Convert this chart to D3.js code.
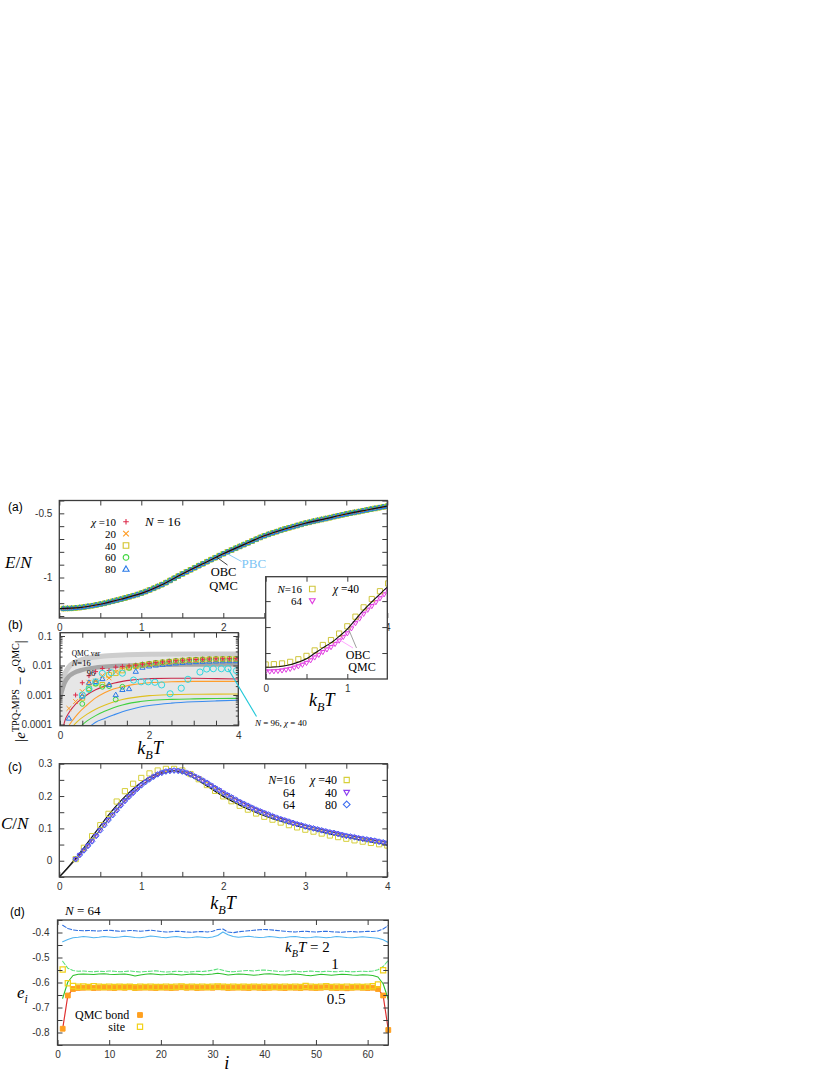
<!DOCTYPE html>
<html><head><meta charset="utf-8">
<script src="https://cdn.jsdelivr.net/npm/d3@7"></script>
<style>body{margin:0;background:#fff}</style>
</head><body>
<svg id="c" width="830" height="1075"></svg>
<script>
// ================= DATA =================
// (a) E/N vs kBT, N=16
const aT = [0,0.25,0.5,0.75,1,1.25,1.5,1.75,2,2.25,2.5,2.75,3,3.25,3.5,3.75,4];
const aQmcObc = [-1.242,-1.234,-1.208,-1.169,-1.124,-1.056,-0.972,-0.893,-0.815,-0.744,-0.675,-0.622,-0.577,-0.541,-0.505,-0.474,-0.444];
const aQmcPbc = [-1.245,-1.238,-1.214,-1.178,-1.134,-1.068,-0.985,-0.905,-0.826,-0.754,-0.684,-0.630,-0.584,-0.547,-0.511,-0.479,-0.449];
const aMarkT = d3.range(1,81).map(k=>+(k*0.05).toFixed(2));
const aMps = [-1.242,-1.241,-1.240,-1.237,-1.234,-1.230,-1.225,-1.220,-1.214,-1.208,
 -1.201,-1.193,-1.185,-1.177,-1.169,-1.160,-1.151,-1.142,-1.133,-1.122,
 -1.110,-1.097,-1.084,-1.070,-1.056,-1.040,-1.023,-1.006,-0.989,-0.972,
 -0.956,-0.940,-0.924,-0.908,-0.893,-0.877,-0.861,-0.846,-0.830,-0.815,
 -0.800,-0.786,-0.772,-0.758,-0.744,-0.730,-0.716,-0.702,-0.688,-0.675,
 -0.664,-0.653,-0.643,-0.632,-0.622,-0.613,-0.604,-0.595,-0.586,-0.577,
 -0.570,-0.562,-0.555,-0.548,-0.541,-0.534,-0.526,-0.519,-0.512,-0.505,
 -0.499,-0.493,-0.487,-0.480,-0.474,-0.468,-0.462,-0.456,-0.450,-0.444];
const chiLabels = ['10','20','40','60','80'];
// (a) inset, chi=40
const inT16 = d3.range(0,16).map(k=>+(k*0.1).toFixed(2));
const inSq16 = [-1.244,-1.243,-1.240,-1.234,-1.224,-1.211,-1.190,-1.169,-1.150,-1.125,-1.097,-1.060,-1.024,-0.992,-0.962,-0.932];
const inQmc16 = [-1.255,-1.254,-1.251,-1.245,-1.235,-1.222,-1.201,-1.180,-1.161,-1.136,-1.108,-1.071,-1.035,-1.003,-0.973,-0.943];
const inQmc64 = [-1.266,-1.265,-1.262,-1.256,-1.246,-1.233,-1.212,-1.191,-1.172,-1.148,-1.120,-1.082,-1.046,-1.016,-0.986,-0.956];
const inT64 = d3.range(0,31).map(k=>+(k*0.05).toFixed(2));
const inTri64 = [-1.271,-1.271,-1.270,-1.269,-1.267,-1.264,-1.261,-1.256,-1.251,-1.245,-1.238,-1.228,-1.217,-1.207,-1.196,-1.186,-1.177,-1.165,-1.152,-1.138,-1.124,-1.105,-1.085,-1.067,-1.049,-1.033,-1.019,-1.004,-0.989,-0.974,-0.959];
// (b) |e_TPQ-MPS - e_QMC|
const bVarT = [0,0.05,0.1,0.2,0.3,0.5,0.75,1.0,1.5,2.0,3.0,4.0];
const bVar16 = [0.0015,0.003,0.005,0.009,0.012,0.016,0.019,0.021,0.023,0.024,0.0245,0.0245];
const bVar96 = [0.0008,0.0015,0.0025,0.0043,0.0055,0.0071,0.0083,0.0091,0.0099,0.0104,0.0108,0.011];
const bLineT = [0.05,0.1,0.2,0.3,0.4,0.6,0.8,1.0,1.2,1.4,1.6,1.8,2.0,2.5,3.0,3.5,4.0];
const bLine10 = [0.00005,0.00012,0.00025,0.0004,0.00058,0.001,0.0015,0.002,0.0025,0.0029,0.0032,0.0034,0.0036,0.0037,0.0037,0.0036,0.0035];
const bLine20 = [0.00002,0.00004,0.00009,0.00015,0.00023,0.00045,0.0008,0.0012,0.0016,0.0019,0.0022,0.0024,0.0026,0.0028,0.0029,0.0029,0.0029];
const bLine40 = [0.00001,0.00002,0.00005,0.00009,0.00013,0.00022,0.00033,0.00045,0.00058,0.0007,0.0008,0.00088,0.00095,0.00103,0.00106,0.00107,0.00108];
const bLine60 = [0.00001,0.00001,0.00003,0.00005,0.00007,0.00013,0.0002,0.00028,0.00037,0.00046,0.00054,0.0006,0.00065,0.00071,0.00074,0.00076,0.00077];
const bLine80 = [0.00001,0.00001,0.00002,0.00003,0.00004,0.00007,0.00012,0.00016,0.00021,0.00027,0.00033,0.00039,0.00044,0.00053,0.00059,0.00063,0.00066];
const bMarkT = d3.range(0,26).map(k=>+(0.2+k*0.15).toFixed(2));
const bMark10 = [null,0.001,0.0026,0.0045,0.0062,0.0079,0.0068,0.0088,0.0093,0.0097,0.0103,0.0111,0.0118,0.0125,0.0132,0.0139,0.0145,0.0151,0.0156,0.016,0.0163,0.0166,0.0168,0.0169,0.017,0.017];
const bMark20 = [0.00035,0.0006,0.0013,0.0027,0.003,0.0045,0.0038,0.006,0.0072,0.0085,0.0094,0.0103,0.0111,0.0119,0.0126,0.0133,0.0139,0.0145,0.015,0.0154,0.0157,0.016,0.0162,0.0163,0.0164,0.0164];
const bMark40 = [null,null,0.0008,0.0017,0.0025,0.0022,0.0048,0.0055,0.0068,0.0085,0.0095,0.0104,0.0112,0.012,0.0127,0.0134,0.014,0.0146,0.0151,0.0155,0.0158,0.0161,0.0163,0.0164,0.0165,0.0165];
const bMark60 = [null,null,0.0005,0.0015,0.0024,0.0019,0.002,0.0007,0.0019,0.0083,0.0097,0.0106,0.0114,0.0122,0.0129,0.0136,0.0142,0.0148,0.0153,0.0157,0.016,0.0163,0.0165,0.0166,0.0167,0.0167];
const bMark80 = [0.00016,null,0.0009,0.0026,0.0028,0.0035,0.0022,0.001,0.0015,0.0016,0.0062,0.0085,0.0094,0.0101,0.0107,0.0113,0.0119,0.0124,0.0128,0.0132,0.0135,0.0137,0.0139,0.014,0.0141,0.0141];
const bN96T = [0.5,0.65,0.8,0.95,1.15,1.4,1.65,1.82,1.98,2.13,2.28,2.47,2.72,2.87,3.14,3.29,3.44,3.62,3.77,3.96];
const bN96 = [0.001,0.0016,0.0028,0.0054,0.0057,0.0055,0.0032,0.0028,0.0028,0.0027,0.0022,0.0011,0.0017,0.0034,0.006,0.0076,0.0078,0.0078,0.0078,0.0067];
// (c) C/N
const cLineT = d3.range(0,41).map(k=>+(k*0.1).toFixed(2));
const cQmc16 = [-0.05,-0.022,0.008,0.04,0.074,0.108,0.141,0.171,0.198,0.222,0.242,0.258,0.27,0.277,0.277,0.272,0.262,0.247,0.231,0.215,0.199,0.185,0.172,0.16,0.149,0.139,0.13,0.122,0.115,0.108,0.101,0.095,0.089,0.083,0.078,0.073,0.068,0.063,0.058,0.054,0.049];
const cQmc64 = [-0.05,-0.024,0.004,0.033,0.064,0.096,0.128,0.158,0.186,0.211,0.232,0.25,0.264,0.273,0.278,0.277,0.27,0.258,0.243,0.228,0.212,0.198,0.185,0.172,0.161,0.15,0.14,0.131,0.123,0.116,0.109,0.102,0.096,0.09,0.085,0.08,0.075,0.07,0.065,0.061,0.057];
const cT16 = d3.range(0,39).map(k=>+(0.2+k*0.1).toFixed(2));
const cMps16 = [0.005,0.04,0.076,0.11,0.145,0.183,0.215,0.238,0.256,0.27,0.279,0.284,0.284,0.279,0.268,0.252,0.234,0.216,0.199,0.184,0.17,0.158,0.146,0.136,0.127,0.118,0.11,0.103,0.096,0.09,0.084,0.078,0.073,0.068,0.063,0.059,0.055,0.051,0.047];
const cT64 = d3.range(0,77).map(k=>+(0.2+k*0.05).toFixed(2));
const cMps64 = [0.005,0.018,0.032,0.046,0.060,0.077,0.094,0.110,0.126,0.141,
 0.156,0.171,0.185,0.198,0.210,0.222,0.233,0.243,0.252,0.260,
 0.267,0.272,0.276,0.278,0.279,0.278,0.276,0.272,0.267,0.261,
 0.255,0.248,0.241,0.233,0.225,0.218,0.210,0.203,0.196,0.189,
 0.182,0.176,0.170,0.164,0.158,0.153,0.148,0.143,0.138,0.133,
 0.129,0.125,0.121,0.117,0.113,0.110,0.106,0.103,0.100,0.097,
 0.094,0.091,0.088,0.086,0.083,0.080,0.077,0.075,0.073,0.070,
 0.068,0.066,0.064,0.062,0.059,0.057,0.054];
// (d) local energies e_i, N=64
const dI = d3.range(1,65);
const dT2dash = [-0.371,-0.384,-0.390,-0.392,-0.393,-0.392,-0.393,-0.394,-0.392,-0.391,
 -0.393,-0.395,-0.394,-0.392,-0.393,-0.395,-0.393,-0.391,-0.393,-0.396,
 -0.398,-0.397,-0.395,-0.396,-0.398,-0.399,-0.397,-0.396,-0.398,-0.395,
 -0.388,-0.386,-0.398,-0.401,-0.397,-0.395,-0.393,-0.391,-0.389,-0.388,
 -0.389,-0.391,-0.393,-0.395,-0.397,-0.398,-0.396,-0.395,-0.397,-0.398,
 -0.396,-0.395,-0.397,-0.398,-0.399,-0.397,-0.396,-0.398,-0.397,-0.395,
 -0.396,-0.394,-0.386,-0.372];
const dT2solid = [-0.437,-0.428,-0.421,-0.419,-0.416,-0.418,-0.421,-0.419,-0.416,-0.418,
 -0.420,-0.418,-0.415,-0.417,-0.420,-0.421,-0.418,-0.414,-0.416,-0.419,
 -0.421,-0.418,-0.416,-0.419,-0.421,-0.420,-0.417,-0.419,-0.421,-0.418,
 -0.412,-0.398,-0.409,-0.416,-0.419,-0.417,-0.415,-0.418,-0.420,-0.419,
 -0.416,-0.418,-0.421,-0.420,-0.417,-0.416,-0.419,-0.421,-0.420,-0.417,
 -0.419,-0.421,-0.419,-0.416,-0.418,-0.420,-0.421,-0.419,-0.417,-0.419,
 -0.421,-0.423,-0.429,-0.440];
const dT1dash = [-0.515,-0.543,-0.552,-0.555,-0.554,-0.556,-0.557,-0.555,-0.556,-0.554,
 -0.555,-0.557,-0.556,-0.554,-0.556,-0.558,-0.556,-0.555,-0.553,-0.556,
 -0.558,-0.557,-0.555,-0.556,-0.558,-0.557,-0.555,-0.556,-0.554,-0.551,
 -0.546,-0.551,-0.556,-0.557,-0.555,-0.553,-0.552,-0.554,-0.551,-0.550,
 -0.552,-0.554,-0.556,-0.555,-0.553,-0.555,-0.557,-0.556,-0.554,-0.556,
 -0.557,-0.555,-0.556,-0.557,-0.555,-0.556,-0.557,-0.556,-0.555,-0.556,
 -0.554,-0.549,-0.536,-0.512];
const dT1solid = [-0.663,-0.598,-0.572,-0.567,-0.566,-0.567,-0.568,-0.566,-0.565,-0.567,
 -0.568,-0.567,-0.566,-0.569,-0.574,-0.570,-0.567,-0.565,-0.567,-0.569,
 -0.568,-0.566,-0.568,-0.570,-0.568,-0.566,-0.567,-0.569,-0.568,-0.566,
 -0.563,-0.566,-0.570,-0.568,-0.566,-0.567,-0.569,-0.571,-0.569,-0.566,
 -0.565,-0.567,-0.569,-0.570,-0.568,-0.566,-0.568,-0.571,-0.573,-0.570,
 -0.567,-0.569,-0.571,-0.569,-0.567,-0.568,-0.570,-0.571,-0.569,-0.570,
 -0.572,-0.578,-0.605,-0.668];
const dBond = [-0.785,-0.652,-0.626,-0.622,-0.621,-0.620,-0.622,-0.621,-0.620,-0.621,
 -0.622,-0.620,-0.621,-0.619,-0.622,-0.621,-0.620,-0.621,-0.622,-0.620,
 -0.621,-0.622,-0.621,-0.619,-0.621,-0.620,-0.622,-0.621,-0.620,-0.621,
 -0.619,-0.620,-0.622,-0.621,-0.620,-0.621,-0.622,-0.620,-0.621,-0.622,
 -0.621,-0.620,-0.621,-0.622,-0.620,-0.621,-0.622,-0.620,-0.621,-0.622,
 -0.621,-0.619,-0.621,-0.622,-0.621,-0.623,-0.621,-0.620,-0.621,-0.622,
 -0.621,-0.626,-0.652,-0.790];
const dSiteI = d3.range(1,64);
const dSite = [-0.548,-0.603,-0.614,-0.617,-0.616,-0.618,-0.615,-0.617,-0.618,-0.617,
 -0.618,-0.617,-0.618,-0.617,-0.619,-0.617,-0.618,-0.617,-0.618,-0.618,
 -0.617,-0.618,-0.617,-0.616,-0.618,-0.617,-0.618,-0.617,-0.618,-0.617,
 -0.616,-0.617,-0.618,-0.617,-0.618,-0.617,-0.618,-0.617,-0.618,-0.617,
 -0.618,-0.617,-0.618,-0.617,-0.618,-0.617,-0.618,-0.614,-0.617,-0.618,
 -0.617,-0.615,-0.618,-0.617,-0.618,-0.617,-0.618,-0.617,-0.618,-0.617,
 -0.615,-0.608,-0.551];

// ================= HELPERS =================
const svg = d3.select('#c');
svg.append('rect').attr('width',830).attr('height',1075).attr('fill','#fff');
const SANS = '"Liberation Sans", Arial, sans-serif';
const SERIF = '"Liberation Serif", "DejaVu Serif", serif';
const FRAME = '#3c3c3c';
const defs = svg.append('defs');

function mpath(t,s){
  switch(t){
    case 'plus': return `M${-s},0H${s}M0,${-s}V${s}`;
    case 'cross': return `M${-s},${-s}L${s},${s}M${-s},${s}L${s},${-s}`;
    case 'square': return `M${-s},${-s}H${s}V${s}H${-s}Z`;
    case 'circle': return `M${s},0A${s},${s} 0 1,1 ${-s},0A${s},${s} 0 1,1 ${s},0Z`;
    case 'tri': return `M0,${-s*1.2}L${s*1.1},${s*0.7}L${-s*1.1},${s*0.7}Z`;
    case 'tridown': return `M0,${s*1.2}L${s*1.1},${-s*0.7}L${-s*1.1},${-s*0.7}Z`;
    case 'diamond': return `M0,${-s*1.3}L${s*1.3},0L0,${s*1.3}L${-s*1.3},0Z`;
  }
}
function marks(g,xs,ys,x,y,type,s,color,o={}){
  const pts = xs.map((t,i)=>[t,ys[i]]).filter(d=>d[1]!=null);
  g.append('g').selectAll('path').data(pts).join('path')
    .attr('transform',d=>`translate(${x(d[0])},${y(d[1])})`)
    .attr('d',mpath(type,s)).attr('fill',o.fill||'none')
    .attr('stroke',color).attr('stroke-width',o.sw||1);
}
function line(g,xs,ys,x,y,color,w,o={}){
  const gen = d3.line().x(d=>x(d[0])).y(d=>y(d[1])).curve(o.curve||d3.curveMonotoneX);
  const p = g.append('path').attr('d',gen(xs.map((t,i)=>[t,ys[i]])))
    .attr('fill','none').attr('stroke',color).attr('stroke-width',w)
    .attr('stroke-linejoin','round').attr('stroke-linecap','round');
  if(o.dash) p.attr('stroke-dasharray',o.dash);
  return p;
}
function rich(x,y,parts,o={}){
  const size=o.size||13;
  const t = svg.append('text').attr('x',x).attr('y',y)
    .attr('font-family',o.family||SERIF).attr('font-size',size)
    .attr('fill',o.fill||'#000').attr('text-anchor',o.anchor||'start');
  if(o.rotate) t.attr('transform',`rotate(-90,${x},${y})`);
  let shift=0;
  parts.forEach(p=>{
    const [s,st] = typeof p==='string' ? [p,''] : p;
    const ts = t.append('tspan').text(s);
    let target=0;
    if(st.includes('sub')) target = size*0.3;
    if(st.includes('sup')) target = -size*0.42;
    if(target!==shift){ ts.attr('dy',target-shift); shift=target; }
    if(st.includes('sub')||st.includes('sup')) ts.attr('font-size',size*0.68);
    if(st.split(' ').includes('i')) ts.attr('font-style','italic');
  });
  return t;
}
const near=(arr,d)=>arr.some(v=>Math.abs(v-d)<1e-9);
function styleAx(sel){
  sel.select('.domain').remove();
  sel.selectAll('line').attr('stroke',FRAME).attr('stroke-width',1);
  sel.selectAll('text').attr('font-family',SANS).attr('font-size',10).attr('fill','#333');
}
function axes(g,x,y,o){
  const [X0,X1]=x.range(), [Yb,Yt]=y.range();
  const tl=o.tl||5, tm=o.tm||2.5;
  const fmt=(arr,f)=>d=>near(arr,d)?f(d):'';
  g.append('g').attr('transform',`translate(0,${Yb})`)
    .call(d3.axisBottom(x).tickValues(o.xt).tickSize(-tl).tickPadding(o.xpad??6).tickFormat(fmt(o.xl,o.xf||String))).call(styleAx);
  g.append('g').attr('transform',`translate(0,${Yt})`)
    .call(d3.axisTop(x).tickValues(o.xt).tickSize(-tl).tickFormat('')).call(styleAx);
  g.append('g').attr('transform',`translate(${X0},0)`)
    .call(d3.axisLeft(y).tickValues(o.yt).tickSize(-tl).tickPadding(o.ypad??7).tickFormat(fmt(o.yl,o.yf||String))).call(styleAx);
  g.append('g').attr('transform',`translate(${X1},0)`)
    .call(d3.axisRight(y).tickValues(o.yt).tickSize(-tl).tickFormat('')).call(styleAx);
  if(o.ym){
    g.append('g').attr('transform',`translate(${X0},0)`).call(d3.axisLeft(y).tickValues(o.ym).tickSize(-tm).tickFormat('')).call(styleAx);
    g.append('g').attr('transform',`translate(${X1},0)`).call(d3.axisRight(y).tickValues(o.ym).tickSize(-tm).tickFormat('')).call(styleAx);
  }
  g.append('rect').attr('x',X0).attr('y',Yt).attr('width',X1-X0).attr('height',Yb-Yt)
    .attr('fill','none').attr('stroke',FRAME).attr('stroke-width',1.3);
}
function clip(id,x,y){
  const [X0,X1]=x.range(), [Yb,Yt]=y.range();
  defs.append('clipPath').attr('id',id).append('rect').attr('x',X0).attr('y',Yt).attr('width',X1-X0).attr('height',Yb-Yt);
  return `url(#${id})`;
}
const fmtNum = d=>String(+d.toFixed(4));
const kBT = (x,y,size,anchor='middle')=>rich(x,y,[['k','i'],['B','i sub'],['T','i']],{size,anchor});

// colours
const C10='#dd2a4a', C20='#ff9a1f', C40='#d2c32a', C60='#3fd63f', C80='#2a7ae8', CPBC='#7cc4f4';

// ================= PANEL (a) =================
const xa = d3.scaleLinear([0,4],[59.3,387.3]);
const ya = d3.scaleLinear([-1.3154,-0.4],[618,500.5]);
const ga = svg.append('g');
const gaIn = ga.append('g').attr('clip-path',clip('ca',xa,ya));
line(gaIn,aT,aQmcPbc,xa,ya,CPBC,1.4,{curve:d3.curveCatmullRom});
const aSeries = [['plus',C10],['cross',C20],['square',C40],['circle',C60],['tri',C80]];
aSeries.forEach(([t,c])=>marks(gaIn,aMarkT,aMps,xa,ya,t,2.3,c));
line(gaIn,aT,aQmcObc,xa,ya,'#111',1.2,{curve:d3.curveCatmullRom});
axes(ga,xa,ya,{xt:d3.range(0,4.01,0.5),xl:[0,1,2,3,4],yt:d3.range(-1.3,-0.39,0.1),yl:[-0.5,-1],yf:fmtNum});
// legend
aSeries.forEach(([t,c],i)=>{
  const yy = 521.7 + i*11.9;
  rich(116,yy+4, i===0?[['χ','i'],' =10']:[chiLabels[i]],{size:11,anchor:'end'});
  svg.append('path').attr('transform',`translate(126,${yy})`).attr('d',mpath(t,2.8)).attr('fill','none').attr('stroke',c).attr('stroke-width',1.1);
});
rich(145,526,[['N','i'],' = 16'],{size:13});
rich(5,567.5,[['E','i'],'/',['N','i']],{size:17});
svg.append('text').attr('x',8).attr('y',511).attr('font-family',SANS).attr('font-size',12).text('(a)');
// OBC / PBC annotation
svg.append('line').attr('x1',227.5).attr('y1',565).attr('x2',xa(1.92)).attr('y2',ya(-0.842)).attr('stroke','#111').attr('stroke-width',0.8);
svg.append('line').attr('x1',241.5).attr('y1',561.5).attr('x2',xa(2.05)).attr('y2',ya(-0.815)).attr('stroke',CPBC).attr('stroke-width',0.9);
rich(223.5,576,['OBC'],{size:12.5,anchor:'middle'});
rich(223.5,589.5,['QMC'],{size:12.5,anchor:'middle'});
rich(241.5,567.5,['PBC'],{size:13,fill:CPBC});

// ---- inset ----
const xi = d3.scaleLinear([0,1.49],[265.7,387.3]);
const yi = d3.scaleLinear([-1.3,-0.906],[679,576.7]);
svg.append('rect').attr('x',265.7).attr('y',576.7).attr('width',121.6).attr('height',102.3).attr('fill','#fff');
const gi = svg.append('g');
const giIn = gi.append('g').attr('clip-path',clip('ci',xi,yi));
line(giIn,inT16,inQmc64,xi,yi,'#ff90ff',1.1);
marks(giIn,inT64,inTri64,xi,yi,'tridown',2.2,'#e040e0');
marks(giIn,inT16,inSq16,xi,yi,'square',2.6,'#cfc53a');
line(giIn,inT16,inQmc16,xi,yi,'#111',1.1);
axes(gi,xi,yi,{xt:[0,0.5,1],xl:[0,1],yt:[-1.2,-1.1,-1.0],yl:[]});
rich(302,592.5,[['N','i'],'=16'],{size:11,anchor:'end'});
svg.append('path').attr('transform','translate(312.3,589)').attr('d',mpath('square',2.8)).attr('fill','none').attr('stroke','#cfc53a').attr('stroke-width',1.1);
rich(302,604.8,['64'],{size:11,anchor:'end'});
svg.append('path').attr('transform','translate(312.3,600.5)').attr('d',mpath('tridown',2.6)).attr('fill','none').attr('stroke','#e040e0').attr('stroke-width',1.1);
rich(333,592.5,[['χ','i'],' =40'],{size:11.5});
svg.append('line').attr('x1',356.5).attr('y1',648).attr('x2',xi(1.01)).attr('y2',yi(-1.104)).attr('stroke','#777').attr('stroke-width',0.7);
svg.append('line').attr('x1',353).attr('y1',648).attr('x2',xi(0.9)).attr('y2',yi(-1.148)).attr('stroke','#ff90ff').attr('stroke-width',0.8);
rich(358,659,['OBC'],{size:12,anchor:'middle'});
rich(362,671,['QMC'],{size:12,anchor:'middle'});
kBT(321.7,706,18);

// ================= PANEL (b) =================
const xb = d3.scaleLinear([0,4],[60,238.3]);
const yb = d3.scaleLog([9.1e-5,0.1294],[725.7,632.7]);
const gb = svg.append('g');
const gbIn = gb.append('g').attr('clip-path',clip('cb',xb,yb));
gbIn.append('path').attr('d',d3.area().x(d=>xb(d[0])).y0(725.7).y1(d=>yb(d[1])).curve(d3.curveMonotoneX)(bVarT.map((t,i)=>[t,bVar16[i]])))
  .attr('fill','#e6e6e6');
line(gbIn,bVarT,bVar16,xb,yb,'#cdcdcd',5);
line(gbIn,bVarT,bVar96,xb,yb,'#a6a6a6',4.5);
const bLines=[[bLine10,'#c8284a'],[bLine20,'#ff9e2c'],[bLine40,'#e0c020'],[bLine60,'#40d040'],[bLine80,'#3a8cf0']];
bLines.forEach(([v,c])=>line(gbIn,bLineT,v,xb,yb,c,1.1));
const bMarks=[[bMark40,'square',C40],[bMark60,'circle',C60],[bMark80,'tri',C80],[bMark20,'cross',C20],[bMark10,'plus',C10]];
bMarks.forEach(([v,t,c])=>marks(gbIn,bMarkT,v,xb,yb,t,2.4,c));
marks(gbIn,bN96T,bN96,xb,yb,'circle',3.1,'#30d8e0');
const ymaj=[1e-4,1e-3,1e-2,1e-1];
const ymin=[]; [-5,-4,-3,-2,-1].forEach(e=>{for(let m=2;m<10;m++){const v=m*Math.pow(10,e); if(v>9.1e-5&&v<0.1294) ymin.push(v);}});
axes(gb,xb,yb,{xt:d3.range(0,4.01,0.5),xl:[0,2,4],yt:ymaj,yl:ymaj,yf:d=>String(d),ym:ymin,ypad:8});
svg.append('text').attr('x',8).attr('y',629).attr('font-family',SANS).attr('font-size',12).text('(b)');
rich(71.7,656,['QMC var'],{size:7.5});
rich(71.7,666,[['N','i'],'=16'],{size:8.5});
rich(86.7,676,['96'],{size:8.5});
svg.append('line').attr('x1',xb(3.77)).attr('y1',yb(0.0078)).attr('x2',256.5).attr('y2',716.5).attr('stroke','#20c8d8').attr('stroke-width',1.1);
rich(255,726,[['N','i'],' = 96, ',['χ','i'],' = 40'],{size:9});
kBT(150,754,18);
rich(25,691,['|',['e','i'],['TPQ-MPS','sup'],' − ',['e','i'],['QMC','sup'],'|'],{size:15,anchor:'middle',rotate:true});

// ================= PANEL (c) =================
const xc = d3.scaleLinear([0,4],[59.3,387.3]);
const yc = d3.scaleLinear([-0.05,0.3],[876.9,763.7]);
const gc = svg.append('g');
const gcIn = gc.append('g').attr('clip-path',clip('cc',xc,yc));
line(gcIn,cLineT,cQmc64,xc,yc,'#555',1.2);
line(gcIn,cLineT,cQmc16,xc,yc,'#111',1.2);
marks(gcIn,cT16,cMps16,xc,yc,'square',2.6,'#d6cf3a');
marks(gcIn,cT64,cMps64,xc,yc,'tridown',2.2,'#8c3cf0');
marks(gcIn,cT64,cMps64,xc,yc,'diamond',2.2,'#3c6cf0');
axes(gc,xc,yc,{xt:d3.range(0,4.01,0.5),xl:[0,1,2,3,4],yt:d3.range(-0.05,0.301,0.05),yl:[0,0.1,0.2,0.3],yf:fmtNum});
svg.append('text').attr('x',8).attr('y',771).attr('font-family',SANS).attr('font-size',12).text('(c)');
rich(1,829,[['C','i'],'/',['N','i']],{size:17});
kBT(223,909,18);
const cLeg=[[[['N','i'],'=16'],[['χ','i'],' =40'],'square','#d6cf3a'],[['64'],['40'],'tridown','#8c3cf0'],[['64'],['80'],'diamond','#3c6cf0']];
cLeg.forEach(([l1,l2,t,c],i)=>{
  const yy=780+i*12.2;
  rich(295,yy+4.3,l1,{size:12,anchor:'end'});
  rich(337,yy+4.3,l2,{size:12,anchor:'end'});
  svg.append('path').attr('transform',`translate(346.7,${yy})`).attr('d',mpath(t,2.6)).attr('fill','none').attr('stroke',c).attr('stroke-width',1.1);
});

// ================= PANEL (d) =================
const xd = d3.scaleLinear([0,64],[57.5,388.3]);
const yd = d3.scaleLinear([-0.85,-0.35],[1045,920]);
const gd = svg.append('g');
const gdIn = gd.append('g').attr('clip-path',clip('cd',xd,yd));
const lin = d3.curveLinear;
line(gdIn,dI,dT2dash,xd,yd,'#2f6fe0',1.1,{dash:'4,2',curve:lin});
line(gdIn,dI,dT2solid,xd,yd,'#50b4f0',1.1,{curve:lin});
line(gdIn,dI,dT1dash,xd,yd,'#5ae07a',1.1,{dash:'4,2',curve:lin});
line(gdIn,dI,dT1solid,xd,yd,'#2cc02c',1.1,{curve:lin});
line(gdIn,dI,dBond,xd,yd,'#e03030',1.2,{curve:lin});
marks(gd,dI,dBond,xd,yd,'square',2.4,'#ffa020',{fill:'#ffa020'});
marks(gd,dSiteI,dSite,xd,yd,'square',2.6,'#f2d21a',{sw:1.2});
axes(gd,xd,yd,{xt:d3.range(0,61,10),xl:d3.range(0,61,10),yt:d3.range(-0.85,-0.349,0.05),yl:[-0.4,-0.5,-0.6,-0.7,-0.8],yf:fmtNum,ypad:8});
svg.append('text').attr('x',10).attr('y',916).attr('font-family',SANS).attr('font-size',12).text('(d)');
rich(65,914.5,[['N','i'],' = 64'],{size:13});
rich(17,998,[['e','i'],['i','i sub']],{size:17});
rich(226.7,1069,[['i','i']],{size:18,anchor:'middle'});
rich(285,952,[['k','i'],['B','i sub'],['T','i'],' = 2'],{size:15});
rich(335,969,['1'],{size:15,anchor:'middle'});
rich(326.7,1004,['0.5'],{size:15});
rich(75,1019,['QMC  bond'],{size:12});
svg.append('path').attr('transform','translate(140,1015)').attr('d',mpath('square',2.4)).attr('fill','#ffa020').attr('stroke','#ffa020');
rich(125,1031,['site'],{size:12,anchor:'end'});
svg.append('path').attr('transform','translate(140,1026.7)').attr('d',mpath('square',2.6)).attr('fill','none').attr('stroke','#f2d21a').attr('stroke-width',1.2);
</script>
</body></html>
